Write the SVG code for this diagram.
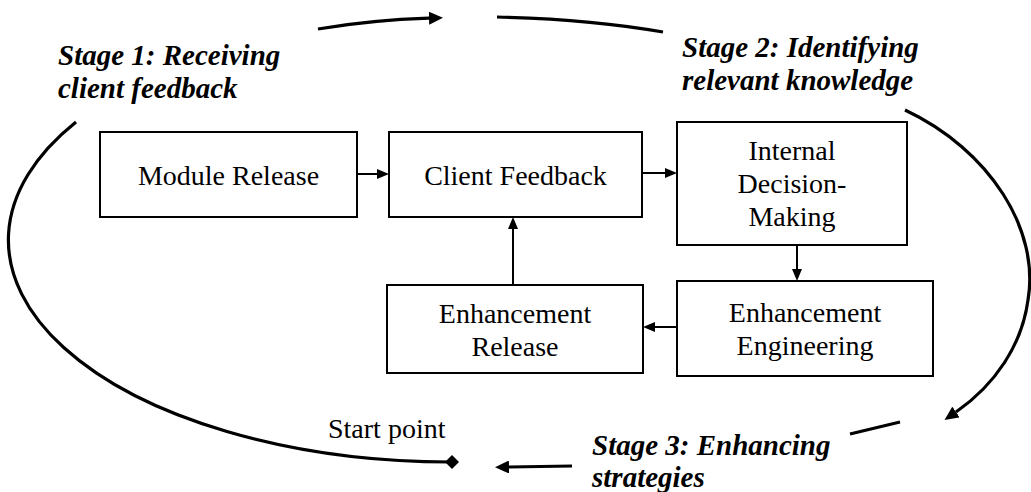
<svg xmlns="http://www.w3.org/2000/svg" width="1031" height="492" viewBox="0 0 1031 492">
<defs>
<style>
.box{fill:#fff;stroke:#000;stroke-width:2}
.conn{fill:none;stroke:#000;stroke-width:2}
.curve{fill:none;stroke:#000;stroke-width:3.2}
</style>
<marker id="ah" markerUnits="userSpaceOnUse" markerWidth="12" markerHeight="10" refX="0" refY="5" orient="auto">
<path d="M0,0 L12,5 L0,10 z" fill="#000"/>
</marker>
<marker id="ahc" markerUnits="userSpaceOnUse" markerWidth="14" markerHeight="13" refX="0" refY="6.5" orient="auto">
<path d="M0,0 L14,6.5 L0,13 z" fill="#000"/>
</marker>
<marker id="dia" markerUnits="userSpaceOnUse" markerWidth="14" markerHeight="14" refX="7" refY="7" orient="auto">
<path d="M0,7 L7,0 L14,7 L7,14 z" fill="#000"/>
</marker>
</defs>

<g id="connectors">
<line class="conn" x1="357" y1="174" x2="377" y2="174" marker-end="url(#ah)"/>
<line class="conn" x1="642" y1="173" x2="665" y2="173" marker-end="url(#ah)"/>
<line class="conn" x1="797" y1="245" x2="797" y2="269" marker-end="url(#ah)"/>
<line class="conn" x1="677" y1="327" x2="655" y2="327" marker-end="url(#ah)"/>
<line class="conn" x1="513" y1="285" x2="513" y2="229" marker-end="url(#ah)"/>
</g>

<g id="cycle">
<path class="curve" d="M318,29 A442,222 0 0 1 429,18.2" marker-end="url(#ahc)"/>
<path class="curve" d="M497,17 Q590,19 663,32"/>
<path class="curve" d="M905,110 C990,150 1040,230 1028,300 C1022,345 995,385 956,412" marker-end="url(#ahc)"/>
<path class="curve" d="M900,422 L850,434"/>
<path class="curve" d="M572,466 L509,467" marker-end="url(#ahc)"/>
<path class="curve" d="M76,122 A442,222 0 0 0 452,462" marker-end="url(#dia)"/>
</g>

<g id="stage1"><text style="font-family:'Liberation Serif',serif !important;font-size:29px !important;font-weight:bold;font-style:italic" x="58" y="65">Stage 1: Receiving</text><text style="font-family:'Liberation Serif',serif !important;font-size:29px !important;font-weight:bold;font-style:italic" x="58" y="98">client feedback</text></g>
<g id="stage2"><text style="font-family:'Liberation Serif',serif !important;font-size:29px !important;font-weight:bold;font-style:italic" x="682" y="57">Stage 2: Identifying</text><text style="font-family:'Liberation Serif',serif !important;font-size:29px !important;font-weight:bold;font-style:italic" x="682" y="90">relevant knowledge</text></g>
<g id="stage3"><text style="font-family:'Liberation Serif',serif !important;font-size:29px !important;font-weight:bold;font-style:italic" x="592" y="455">Stage 3: Enhancing</text><text style="font-family:'Liberation Serif',serif !important;font-size:29px !important;font-weight:bold;font-style:italic" x="592" y="487">strategies</text></g>
<g id="start"><text style="font-family:'Liberation Serif',serif !important;font-size:28px !important" x="328" y="438">Start point</text></g>

<g id="module-release"><rect class="box" x="100" y="132" width="257" height="85"/><text style="font-family:'Liberation Serif',serif !important;font-size:28px !important;text-anchor:middle" x="228.5" y="185">Module Release</text></g>
<g id="client-feedback"><rect class="box" x="389" y="132" width="253" height="85"/><text style="font-family:'Liberation Serif',serif !important;font-size:28px !important;text-anchor:middle" x="515.5" y="185">Client Feedback</text></g>
<g id="internal-decision"><rect class="box" x="677" y="122" width="230" height="123"/><text style="font-family:'Liberation Serif',serif !important;font-size:28px !important;text-anchor:middle" x="792" y="160">Internal</text><text style="font-family:'Liberation Serif',serif !important;font-size:28px !important;text-anchor:middle" x="792" y="193">Decision-</text><text style="font-family:'Liberation Serif',serif !important;font-size:28px !important;text-anchor:middle" x="792" y="226">Making</text></g>
<g id="enh-engineering"><rect class="box" x="677" y="281" width="256" height="95"/><text style="font-family:'Liberation Serif',serif !important;font-size:28px !important;text-anchor:middle" x="805" y="322">Enhancement</text><text style="font-family:'Liberation Serif',serif !important;font-size:28px !important;text-anchor:middle" x="805" y="355">Engineering</text></g>
<g id="enh-release"><rect class="box" x="387" y="285" width="256" height="88"/><text style="font-family:'Liberation Serif',serif !important;font-size:28px !important;text-anchor:middle" x="515" y="323">Enhancement</text><text style="font-family:'Liberation Serif',serif !important;font-size:28px !important;text-anchor:middle" x="515" y="356">Release</text></g>
</svg>
